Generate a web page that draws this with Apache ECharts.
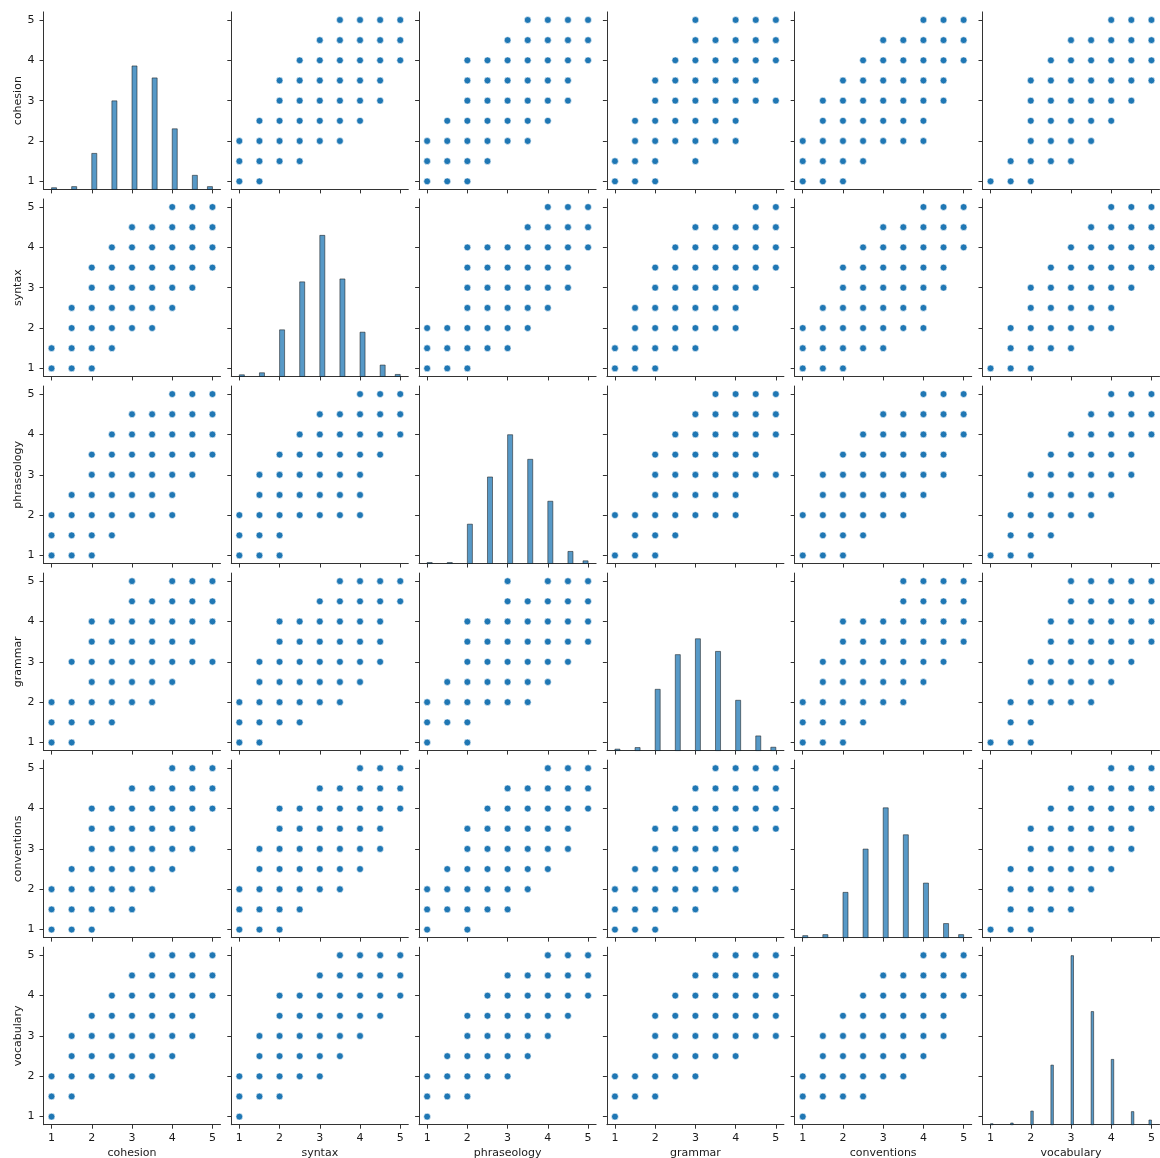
<!DOCTYPE html>
<html>
<head>
<meta charset="utf-8">
<script src="https://cdn.jsdelivr.net/npm/echarts@6/dist/echarts.min.js"></script>
<style>
  html, body { margin: 0; padding: 0; background: #ffffff; }
  #chart { width: 1160px; height: 1158px; }
</style>
</head>
<body>
<div id="chart"></div>
<script>
// Essay score pair plot: six analytic scores, each on a 1–5 scale in half steps.
const variables = ['cohesion', 'syntax', 'phraseology', 'grammar', 'conventions', 'vocabulary'];
const scoreLevels = [1, 1.5, 2, 2.5, 3, 3.5, 4, 4.5, 5];
const tickValues = [1, 2, 3, 4, 5];

// Number of essays at each score level (1, 1.5, … 5) for every variable.
const cohesionCounts    = [15, 25, 322, 792, 1104, 997, 542, 126, 25];
const syntaxCounts      = [15, 33, 417, 846, 1262, 872, 396, 102, 18];
const phraseologyCounts = [9, 9, 352, 774, 1152, 932, 557, 108, 24];
const grammarCounts     = [13, 27, 548, 858, 1000, 887, 450, 131, 30];
const conventionsCounts = [18, 27, 405, 792, 1161, 920, 488, 126, 27];
const vocabularyCounts  = [9, 15, 122, 533, 1512, 1012, 584, 117, 42];

// Histogram bin count used for each variable (over the 1–5 range).
const histBinCounts = [32, 32, 32, 32, 32, 64];

// Score combinations that occur. Each list is indexed by the row variable's
// level (1, 1.5, … 5) and holds the column variable's levels seen with it.
const cohesionSyntax = [
  [1, 1.5], [1, 1.5, 2, 2.5], [1, 1.5, 2, 2.5, 3, 3.5], [1.5, 2, 2.5, 3, 3.5, 4],
  [2, 2.5, 3, 3.5, 4, 4.5], [2, 2.5, 3, 3.5, 4, 4.5], [2.5, 3, 3.5, 4, 4.5, 5],
  [3, 3.5, 4, 4.5, 5], [3.5, 4, 4.5, 5]
];
const cohesionPhraseology = [
  [1, 1.5, 2], [1, 1.5, 2, 2.5], [1, 1.5, 2, 2.5, 3, 3.5], [1.5, 2, 2.5, 3, 3.5, 4],
  [2, 2.5, 3, 3.5, 4, 4.5], [2, 2.5, 3, 3.5, 4, 4.5], [2, 2.5, 3, 3.5, 4, 4.5, 5],
  [3, 3.5, 4, 4.5, 5], [3.5, 4, 4.5, 5]
];
const cohesionGrammar = [
  [1, 1.5, 2], [1, 1.5, 2, 3], [1.5, 2, 2.5, 3, 3.5, 4], [1.5, 2, 2.5, 3, 3.5, 4],
  [2, 2.5, 3, 3.5, 4, 4.5, 5], [2, 2.5, 3, 3.5, 4, 4.5], [2.5, 3, 3.5, 4, 4.5, 5],
  [3, 3.5, 4, 4.5, 5], [3, 4, 4.5, 5]
];
const cohesionConventions = [
  [1, 1.5, 2], [1, 1.5, 2, 2.5], [1, 1.5, 2, 2.5, 3, 3.5, 4], [1.5, 2, 2.5, 3, 3.5, 4],
  [1.5, 2, 2.5, 3, 3.5, 4, 4.5], [2, 2.5, 3, 3.5, 4, 4.5], [2.5, 3, 3.5, 4, 4.5, 5],
  [3, 3.5, 4, 4.5, 5], [4, 4.5, 5]
];
const cohesionVocabulary = [
  [1, 1.5, 2], [1.5, 2, 2.5, 3], [2, 2.5, 3, 3.5], [2, 2.5, 3, 3.5, 4],
  [2, 2.5, 3, 3.5, 4, 4.5], [2, 2.5, 3, 3.5, 4, 4.5, 5], [2.5, 3, 3.5, 4, 4.5, 5],
  [3, 3.5, 4, 4.5, 5], [4, 4.5, 5]
];
const syntaxPhraseology = [
  [1, 1.5, 2], [1, 1.5, 2, 2.5, 3], [1, 1.5, 2, 2.5, 3, 3.5], [2, 2.5, 3, 3.5, 4],
  [2, 2.5, 3, 3.5, 4, 4.5], [2, 2.5, 3, 3.5, 4, 4.5], [2, 2.5, 3, 3.5, 4, 4.5, 5],
  [3.5, 4, 4.5, 5], [4, 4.5, 5]
];
const syntaxGrammar = [
  [1, 1.5, 2], [1, 1.5, 2, 2.5, 3], [1.5, 2, 2.5, 3, 3.5, 4], [1.5, 2, 2.5, 3, 3.5, 4],
  [2, 2.5, 3, 3.5, 4, 4.5], [2, 2.5, 3, 3.5, 4, 4.5, 5], [2.5, 3, 3.5, 4, 4.5, 5],
  [3, 3.5, 4, 4.5, 5], [4.5, 5]
];
const syntaxConventions = [
  [1, 1.5, 2], [1, 1.5, 2, 2.5, 3], [1, 1.5, 2, 2.5, 3, 3.5, 4], [1.5, 2, 2.5, 3, 3.5, 4],
  [2, 2.5, 3, 3.5, 4, 4.5], [2, 2.5, 3, 3.5, 4, 4.5], [2.5, 3, 3.5, 4, 4.5, 5],
  [3, 3.5, 4, 4.5, 5], [4, 4.5, 5]
];
const syntaxVocabulary = [
  [1, 1.5, 2], [1.5, 2, 2.5, 3], [1.5, 2, 2.5, 3, 3.5, 4], [2, 2.5, 3, 3.5, 4],
  [2, 2.5, 3, 3.5, 4, 4.5], [2.5, 3, 3.5, 4, 4.5, 5], [3, 3.5, 4, 4.5, 5],
  [3.5, 4, 4.5, 5], [4, 4.5, 5]
];
const phraseologyGrammar = [
  [1, 1.5, 2], [1.5, 2, 2.5], [1, 1.5, 2, 2.5, 3, 3.5, 4], [2, 2.5, 3, 3.5, 4],
  [2, 2.5, 3, 3.5, 4, 4.5, 5], [2, 2.5, 3, 3.5, 4, 4.5], [2.5, 3, 3.5, 4, 4.5, 5],
  [3, 3.5, 4, 4.5, 5], [3.5, 4, 4.5, 5]
];
const phraseologyConventions = [
  [1, 1.5, 2], [1.5, 2, 2.5], [1, 1.5, 2, 2.5, 3, 3.5], [1.5, 2, 2.5, 3, 3.5, 4],
  [1.5, 2, 2.5, 3, 3.5, 4, 4.5], [2, 2.5, 3, 3.5, 4, 4.5], [2.5, 3, 3.5, 4, 4.5, 5],
  [3, 3.5, 4, 4.5, 5], [4, 4.5, 5]
];
const phraseologyVocabulary = [
  [1, 1.5, 2], [1.5, 2, 2.5], [1.5, 2, 2.5, 3, 3.5], [2, 2.5, 3, 3.5, 4],
  [2, 2.5, 3, 3.5, 4, 4.5], [2.5, 3, 3.5, 4, 4.5], [3, 3.5, 4, 4.5, 5],
  [3.5, 4, 4.5, 5], [4, 4.5, 5]
];
const grammarConventions = [
  [1, 1.5, 2], [1, 1.5, 2, 2.5], [1, 1.5, 2, 2.5, 3, 3.5], [1.5, 2, 2.5, 3, 3.5, 4],
  [1.5, 2, 2.5, 3, 3.5, 4, 4.5], [2, 2.5, 3, 3.5, 4, 4.5, 5], [2, 2.5, 3, 3.5, 4, 4.5, 5],
  [3.5, 4, 4.5, 5], [3.5, 4, 4.5, 5]
];
const grammarVocabulary = [
  [1, 1.5, 2], [1.5, 2], [1.5, 2, 2.5, 3, 3.5], [2, 2.5, 3, 3.5, 4],
  [2, 2.5, 3, 3.5, 4, 4.5], [2.5, 3, 3.5, 4, 4.5, 5], [2.5, 3, 3.5, 4, 4.5, 5],
  [3, 3.5, 4, 4.5, 5], [3, 3.5, 4, 4.5, 5]
];
const conventionsVocabulary = [
  [1, 1.5, 2], [1.5, 2, 2.5, 3], [1.5, 2, 2.5, 3, 3.5], [1.5, 2, 2.5, 3, 3.5, 4],
  [2, 2.5, 3, 3.5, 4, 4.5], [2, 2.5, 3, 3.5, 4, 4.5], [2.5, 3, 3.5, 4, 4.5, 5],
  [3, 3.5, 4, 4.5, 5], [4, 4.5, 5]
];

// ---- assemble lookups ----
const countsByVar = [cohesionCounts, syntaxCounts, phraseologyCounts,
                     grammarCounts, conventionsCounts, vocabularyCounts];
const pairTable = {
  '0-1': cohesionSyntax, '0-2': cohesionPhraseology, '0-3': cohesionGrammar,
  '0-4': cohesionConventions, '0-5': cohesionVocabulary,
  '1-2': syntaxPhraseology, '1-3': syntaxGrammar, '1-4': syntaxConventions, '1-5': syntaxVocabulary,
  '2-3': phraseologyGrammar, '2-4': phraseologyConventions, '2-5': phraseologyVocabulary,
  '3-4': grammarConventions, '3-5': grammarVocabulary,
  '4-5': conventionsVocabulary
};

// Points for the panel in row r (y variable) and column c (x variable).
function panelPoints(r, c) {
  const lo = Math.min(r, c), hi = Math.max(r, c);
  const rows = pairTable[lo + '-' + hi];
  const pts = [];
  rows.forEach((cols, i) => {
    const a = scoreLevels[i];           // level of variable `lo`
    cols.forEach(b => {                 // level of variable `hi`
      pts.push(r < c ? [b, a] : [a, b]);
    });
  });
  return pts;
}

// Histogram bars: [binStart, binEnd, count]
function histBars(v) {
  const n = histBinCounts[v];
  const w = 4 / n;
  return countsByVar[v].map((cnt, i) => {
    const s = scoreLevels[i];
    const k = Math.min(Math.floor((s - 1) / w + 1e-9), n - 1);
    const x0 = 1 + k * w;
    return [x0, x0 + w, cnt];
  });
}

// ---- layout & style ----
const N = variables.length;
const LEFT0 = 43.5, COL_STEP = 187.8, PANEL_W = 177;
const TOP0 = 11.9, ROW_STEP = 187.06, PANEL_H = 177.5;
const FONT = 'DejaVu Sans';
const TEXT_COLOR = '#1a1a1a';
const SPINE_COLOR = '#333333';
const POINT_COLOR = '#1f77b4';
const BAR_FILL = 'rgba(31,119,180,0.75)';
const BAR_EDGE = 'rgba(20,20,20,0.65)';

const grids = [], xAxes = [], yAxes = [], series = [];
const histAxisStart = N * N;
const maxCount = Math.max(...countsByVar.map(a => Math.max(...a)));

for (let r = 0; r < N; r++) {
  for (let c = 0; c < N; c++) {
    const g = r * N + c;
    grids.push({
      left: LEFT0 + c * COL_STEP,
      top: TOP0 + r * ROW_STEP,
      width: PANEL_W,
      height: PANEL_H,
      outerBoundsMode: 'none',
      containLabel: false
    });
    const bottomRow = r === N - 1;
    const leftCol = c === 0;
    xAxes.push({
      type: 'value', gridIndex: g, min: 0.8, max: 5.2,
      axisLine: { show: true, onZero: false, lineStyle: { color: SPINE_COLOR, width: 1 } },
      axisTick: { show: true, inside: false, length: 4, customValues: tickValues,
                  lineStyle: { color: SPINE_COLOR, width: 1 } },
      axisLabel: { show: bottomRow, customValues: tickValues, margin: 8,
                   color: TEXT_COLOR, fontSize: 11, fontFamily: FONT },
      splitLine: { show: false },
      name: bottomRow ? variables[c] : '',
      nameLocation: 'middle', nameGap: 23,
      nameTextStyle: { color: TEXT_COLOR, fontSize: 11, fontFamily: FONT }
    });
    yAxes.push({
      type: 'value', gridIndex: g, min: 0.8, max: 5.2,
      axisLine: { show: true, onZero: false, lineStyle: { color: SPINE_COLOR, width: 1 } },
      axisTick: { show: true, inside: false, length: 4, customValues: tickValues,
                  lineStyle: { color: SPINE_COLOR, width: 1 } },
      axisLabel: { show: leftCol, customValues: tickValues, margin: 9,
                   color: TEXT_COLOR, fontSize: 11, fontFamily: FONT },
      splitLine: { show: false },
      name: leftCol ? variables[r] : '',
      nameLocation: 'middle', nameGap: 20,
      nameTextStyle: { color: TEXT_COLOR, fontSize: 11, fontFamily: FONT }
    });
    if (r !== c) {
      series.push({
        type: 'scatter', xAxisIndex: g, yAxisIndex: g,
        data: panelPoints(r, c),
        symbol: 'circle', symbolSize: 6.8,
        itemStyle: { color: POINT_COLOR, borderColor: '#ffffff', borderWidth: 0.6, opacity: 1 },
        emphasis: { disabled: true },
        silent: true
      });
    }
  }
}

// Diagonal histograms share one hidden count axis scale.
for (let v = 0; v < N; v++) {
  const g = v * N + v;
  yAxes.push({
    type: 'value', gridIndex: g, show: false, position: 'right',
    min: 0, max: maxCount * 1.05,
    splitLine: { show: false }
  });
  series.push({
    type: 'custom', xAxisIndex: g, yAxisIndex: histAxisStart + v,
    data: histBars(v),
    encode: { x: [0, 1], y: 2 },
    silent: true,
    renderItem: function (params, api) {
      const p0 = api.coord([api.value(0), 0]);
      const p1 = api.coord([api.value(1), api.value(2)]);
      return {
        type: 'rect',
        shape: { x: p0[0], y: p1[1], width: p1[0] - p0[0], height: p0[1] - p1[1] },
        style: { fill: BAR_FILL, stroke: BAR_EDGE, lineWidth: 0.8 }
      };
    }
  });
}

const chart = echarts.init(document.getElementById('chart'), null, { renderer: 'canvas' });
chart.setOption({
  backgroundColor: '#ffffff',
  animation: false,
  grid: grids,
  xAxis: xAxes,
  yAxis: yAxes,
  series: series
});
</script>
</body>
</html>
